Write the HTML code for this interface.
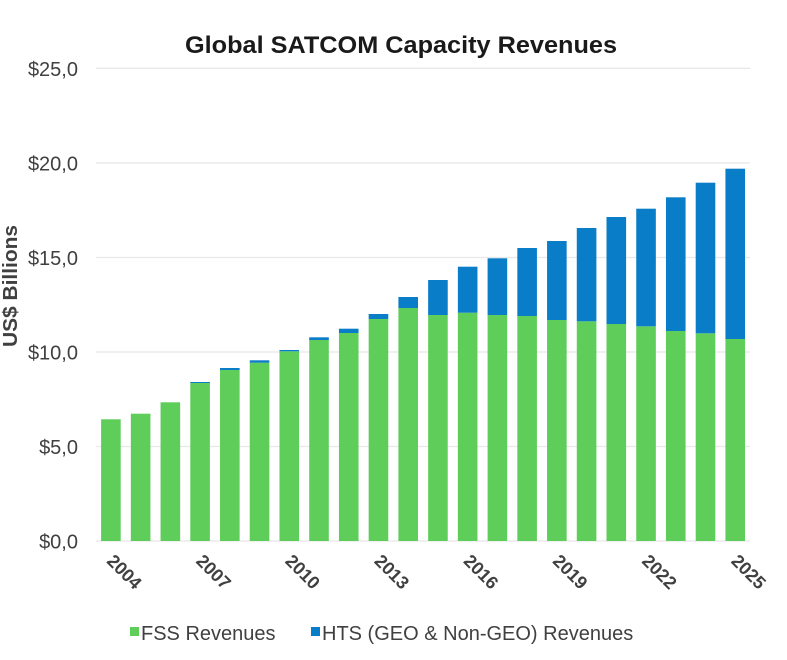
<!DOCTYPE html>
<html><head><meta charset="utf-8"><style>
html,body{margin:0;padding:0;background:#fff;}
svg{display:block;}
text{font-family:"Liberation Sans",Arial,sans-serif;}
</style></head><body>
<svg width="787" height="660" viewBox="0 0 787 660" xmlns="http://www.w3.org/2000/svg">
<rect width="787" height="660" fill="#fff"/>
<text x="401" y="53" text-anchor="middle" font-size="24" font-weight="bold" fill="#1a1a1a" textLength="432" lengthAdjust="spacingAndGlyphs">Global SATCOM Capacity Revenues</text>
<g stroke="#e8e8e8" stroke-width="1.3">
<line x1="96" y1="68.3" x2="750" y2="68.3"/>
<line x1="96" y1="163" x2="750" y2="163"/>
<line x1="96" y1="257.5" x2="750" y2="257.5"/>
<line x1="96" y1="352" x2="750" y2="352"/>
<line x1="96" y1="446.5" x2="750" y2="446.5"/>
<line x1="96" y1="541" x2="750" y2="541"/>
</g>
<g font-size="20" fill="#404040" text-anchor="end">
<text x="78" y="76">$25,0</text>
<text x="78" y="170.7">$20,0</text>
<text x="78" y="265.2">$15,0</text>
<text x="78" y="359.7">$10,0</text>
<text x="78" y="454.2">$5,0</text>
<text x="78" y="548.7">$0,0</text>
</g>
<text transform="translate(17,286) rotate(-90)" text-anchor="middle" font-size="20" font-weight="bold" fill="#404040" textLength="122" lengthAdjust="spacingAndGlyphs">US$ Billions</text>
<g fill="#5fcd5a">
<rect x="101.1" y="419.3" width="19.6" height="121.7"/>
<rect x="130.83" y="413.7" width="19.6" height="127.3"/>
<rect x="160.56" y="402.3" width="19.6" height="138.7"/>
<rect x="190.29" y="383" width="19.6" height="158"/>
<rect x="220.02" y="370" width="19.6" height="171"/>
<rect x="249.75" y="362.7" width="19.6" height="178.3"/>
<rect x="279.48" y="351.3" width="19.6" height="189.7"/>
<rect x="309.21" y="340" width="19.6" height="201"/>
<rect x="338.94" y="333" width="19.6" height="208"/>
<rect x="368.67" y="319" width="19.6" height="222"/>
<rect x="398.4" y="308" width="19.6" height="233"/>
<rect x="428.13" y="315" width="19.6" height="226"/>
<rect x="457.86" y="312.7" width="19.6" height="228.3"/>
<rect x="487.59" y="315" width="19.6" height="226"/>
<rect x="517.32" y="316" width="19.6" height="225"/>
<rect x="547.05" y="320" width="19.6" height="221"/>
<rect x="576.78" y="321.3" width="19.6" height="219.7"/>
<rect x="606.51" y="324" width="19.6" height="217"/>
<rect x="636.24" y="326.3" width="19.6" height="214.7"/>
<rect x="665.97" y="331" width="19.6" height="210"/>
<rect x="695.7" y="333.3" width="19.6" height="207.7"/>
<rect x="725.43" y="339" width="19.6" height="202"/>
</g>
<g fill="#0a7dc8">
<rect x="190.29" y="382" width="19.6" height="1"/>
<rect x="220.02" y="368" width="19.6" height="2"/>
<rect x="249.75" y="360.3" width="19.6" height="2.4"/>
<rect x="279.48" y="350" width="19.6" height="1.3"/>
<rect x="309.21" y="337.3" width="19.6" height="2.7"/>
<rect x="338.94" y="328.7" width="19.6" height="4.3"/>
<rect x="368.67" y="314" width="19.6" height="5"/>
<rect x="398.4" y="297" width="19.6" height="11"/>
<rect x="428.13" y="280" width="19.6" height="35"/>
<rect x="457.86" y="266.7" width="19.6" height="46"/>
<rect x="487.59" y="258.3" width="19.6" height="56.7"/>
<rect x="517.32" y="248" width="19.6" height="68"/>
<rect x="547.05" y="241" width="19.6" height="79"/>
<rect x="576.78" y="228" width="19.6" height="93.3"/>
<rect x="606.51" y="217" width="19.6" height="107"/>
<rect x="636.24" y="208.7" width="19.6" height="117.6"/>
<rect x="665.97" y="197.3" width="19.6" height="133.7"/>
<rect x="695.7" y="182.7" width="19.6" height="150.6"/>
<rect x="725.43" y="168.7" width="19.6" height="170.3"/>
</g>
<g font-size="18" font-weight="bold" fill="#404040">
<text x="105.9" y="562" transform="rotate(45 105.9 562)">2004</text>
<text x="195.1" y="562" transform="rotate(45 195.1 562)">2007</text>
<text x="284.2" y="562" transform="rotate(45 284.2 562)">2010</text>
<text x="373.4" y="562" transform="rotate(45 373.4 562)">2013</text>
<text x="462.6" y="562" transform="rotate(45 462.6 562)">2016</text>
<text x="551.8" y="562" transform="rotate(45 551.8 562)">2019</text>
<text x="641" y="562" transform="rotate(45 641 562)">2022</text>
<text x="730.2" y="562" transform="rotate(45 730.2 562)">2025</text>
</g>
<rect x="130" y="627" width="9" height="9" fill="#5fcd5a"/>
<text x="141" y="640" font-size="20" fill="#404040">FSS Revenues</text>
<rect x="311" y="627" width="9" height="9" fill="#0a7dc8"/>
<text x="322" y="640" font-size="20" fill="#404040">HTS (GEO &amp; Non-GEO) Revenues</text>
</svg>
</body></html>
